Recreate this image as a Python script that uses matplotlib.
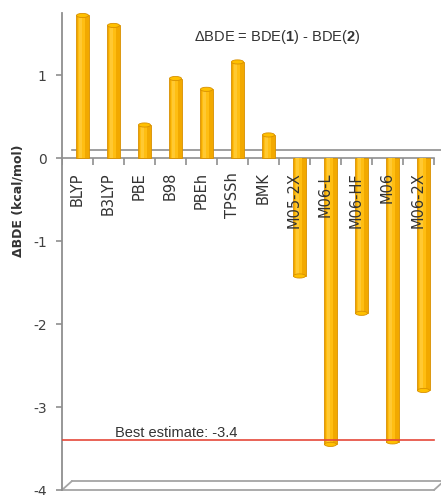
import matplotlib
matplotlib.use("Agg")
import matplotlib.pyplot as plt
import numpy as np
from matplotlib.patches import Ellipse, ConnectionPatch
from matplotlib.transforms import ScaledTranslation
from matplotlib import markers

plt.rcParams["axes.unicode_minus"] = False
plt.rcParams["mathtext.fontset"] = "custom"
plt.rcParams["mathtext.rm"] = "Liberation Sans"
plt.rcParams["mathtext.bf"] = "Liberation Sans:bold"

# Functionals and the computed BDE difference (kcal/mol)
functionals = ["BLYP", "B3LYP", "PBE", "B98", "PBEh", "TPSSh", "BMK",
               "M05-2X", "M06-L", "M06-HF", "M06", "M06-2X"]
delta_bde = [1.72, 1.60, 0.40, 0.96, 0.83, 1.16, 0.28,
             -1.42, -3.45, -1.87, -3.42, -2.80]
best_estimate = -3.4
yticks = [1, 0, -1, -2, -3, -4]

DPI = 100
W, H = 441, 495
fig = plt.figure(figsize=(W / DPI, H / DPI), dpi=DPI)
fig.patch.set_facecolor("white")

ax_left, ax_right, ax_top, ax_bottom = 62, 441, 13, 490
ax = fig.add_axes([ax_left / W, 1 - ax_bottom / H,
                   (ax_right - ax_left) / W, (ax_bottom - ax_top) / H])
n = len(functionals)
cat_px = 31.0
ax.set_xlim(-0.5, -0.5 + (ax_right - ax_left) / cat_px)
ax.set_ylim(-4, 1.75)

grey = "#8f8f8f"
for s in ["top", "right", "bottom"]:
    ax.spines[s].set_visible(False)
ax.spines["left"].set_color(grey)
ax.spines["left"].set_linewidth(1.3)
ax.set_xticks([])
ax.set_yticks(yticks)
ax.set_yticklabels([str(v) for v in yticks])
ax.tick_params(axis="y", direction="out", length=4, width=1.2, color=grey,
               labelcolor="#404040", labelsize=10, pad=7)
for lab in ax.get_yticklabels():
    lab.set_fontfamily("DejaVu Sans")

# depth offsets of the pseudo-3D chart
back = ax.transData + ScaledTranslation(10 / DPI, 8 / DPI, fig.dpi_scale_trans)
floor_back = ax.transData + ScaledTranslation(10 / DPI, 9 / DPI, fig.dpi_scale_trans)
mid = ax.transData + ScaledTranslation(5 / DPI, 0, fig.dpi_scale_trans)

x = np.arange(n)
x_end = n - 0.5

# zero line: back wall line and front axis with downward ticks
ax.plot([-0.5, ax.get_xlim()[1]], [0, 0], color=grey, lw=1.2, transform=back,
        zorder=1)
ax.plot([-0.5, x_end], [0, 0], color=grey, lw=1.2, zorder=1)
ax.plot(np.arange(n + 1) - 0.5, np.zeros(n + 1), ls="none",
        marker=markers.TICKDOWN, markersize=5, mew=1.2, color=grey, zorder=1)

# floor
ax.plot([-0.5, x_end], [-4, -4], color="#a5a5a5", lw=1.3, zorder=1,
        clip_on=False)
ax.plot([-0.5, ax.get_xlim()[1]], [-4, -4], color="#a5a5a5", lw=1.3,
        transform=floor_back, zorder=1)
for xe in (-0.5, x_end):
    cp = ConnectionPatch(xyA=(xe, -4), coordsA=ax.transData,
                         xyB=(xe, -4), coordsB=floor_back,
                         color="#a5a5a5", lw=1.3, zorder=1)
    ax.add_artist(cp)

# cylinder-like bars
bw = 0.39
cap_h = 0.05
ax.bar(x, delta_bde, width=bw, color="#F2A900", edgecolor="#D89000",
       linewidth=0.6, transform=mid, zorder=2)
ax.bar(x - 0.03, delta_bde, width=bw * 0.6, color="#FFBE12", linewidth=0,
       transform=mid, zorder=2.1)
ax.bar(x - 0.05, delta_bde, width=bw * 0.25, color="#FFC933", linewidth=0,
       transform=mid, zorder=2.2)
for xi, v in zip(x, delta_bde):
    ax.add_patch(Ellipse((xi, v), bw, cap_h, facecolor="#FFC000",
                         edgecolor="#D89000", lw=0.6, transform=mid,
                         zorder=2.3))

# category labels just below the zero line
for xi, name in zip(x, functionals):
    ax.annotate(name, xy=(xi, 0), xytext=(0, -10), textcoords="offset points",
                rotation=90, ha="center", va="top", fontsize=10.5,
                color="#333333", family="DejaVu Sans", zorder=5)

# best estimate reference line
ax.plot([-0.5, x_end], [best_estimate, best_estimate], color="#E5483A",
        lw=1.2, zorder=3)
ax.annotate(f"Best estimate: {best_estimate}", xy=(1.21, best_estimate),
            xytext=(0, 2.5), textcoords="offset points", ha="left",
            va="baseline", fontsize=10.5, color="#333333",
            family="Liberation Sans", zorder=5)

fig.text(277 / W, 1 - 37 / H,
         r"ΔBDE = BDE($\mathbf{1}$) - BDE($\mathbf{2}$)",
         ha="center", va="center", fontsize=10.5, color="#333333",
         family="Liberation Sans")

fig.text(18 / W, 1 - 201 / H, "ΔBDE (kcal/mol)", rotation=90,
         ha="center", va="center", fontsize=9, fontweight="bold",
         color="#333333", family="DejaVu Sans")

fig.savefig("out.png", dpi=DPI)
